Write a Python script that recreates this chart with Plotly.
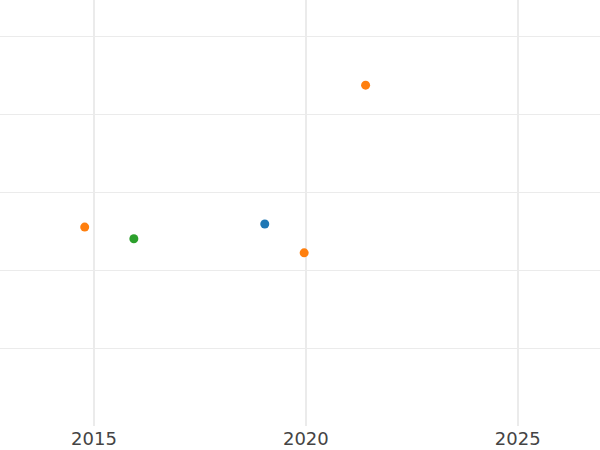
import plotly.graph_objects as go

# Data (y values in arbitrary units; axis has no labels)
blue_x = [2019.03]
blue_y = [2.59]
orange_x = [2014.78, 2019.96, 2021.41]
orange_y = [2.55, 2.22, 4.37]
green_x = [2015.94]
green_y = [2.40]

fig = go.Figure()
fig.add_trace(go.Scatter(x=blue_x, y=blue_y, mode="markers",
                         marker=dict(color="#1f77b4", size=9), name="A"))
fig.add_trace(go.Scatter(x=orange_x, y=orange_y, mode="markers",
                         marker=dict(color="#ff7f0e", size=9), name="B"))
fig.add_trace(go.Scatter(x=green_x, y=green_y, mode="markers",
                         marker=dict(color="#2ca02c", size=9), name="C"))

fig.update_layout(
    width=600, height=450,
    margin=dict(l=0, r=0, t=0, b=24),
    paper_bgcolor="white", plot_bgcolor="white",
    showlegend=False,
    font=dict(family="DejaVu Sans", size=18, color="#444444"),
)
fig.update_xaxes(range=[2012.781, 2026.942], dtick=5, tick0=2015,
                 showgrid=True, gridcolor="#ebebeb", gridwidth=2,
                 zeroline=False, showline=False, ticks="")
fig.update_yaxes(range=[0, 5.4615], dtick=1, tick0=0,
                 showgrid=True, gridcolor="#ebebeb", gridwidth=1,
                 zeroline=False, showline=False, ticks="", showticklabels=False)

fig.write_html("out.html",
               config={"displayModeBar": False},
               post_script="document.body.style.margin='0';document.body.style.overflow='hidden';")
